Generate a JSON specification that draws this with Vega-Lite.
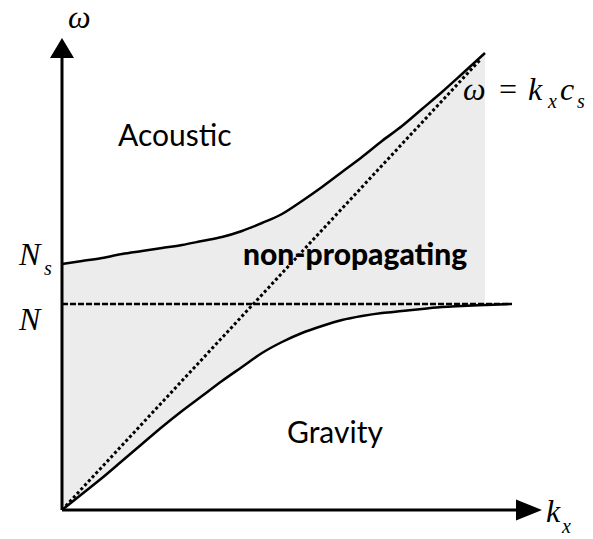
{
  "$schema": "https://vega.github.io/schema/vega-lite/v6.json",
  "width": 480,
  "height": 472,
  "autosize": {"type": "none"},
  "padding": {"left": 62, "top": 38, "right": 51, "bottom": 29},
  "background": "white",
  "config": {"view": {"stroke": null}},
  "datasets": {
    "branches": [
      {"k": 0, "acoustic": 246, "gravity": 0},
      {"k": 20, "acoustic": 249, "gravity": 16},
      {"k": 40, "acoustic": 252, "gravity": 32},
      {"k": 60, "acoustic": 256, "gravity": 49},
      {"k": 80, "acoustic": 259, "gravity": 66},
      {"k": 100, "acoustic": 262, "gravity": 83},
      {"k": 120, "acoustic": 265, "gravity": 99},
      {"k": 140, "acoustic": 269, "gravity": 114},
      {"k": 160, "acoustic": 273, "gravity": 129},
      {"k": 180, "acoustic": 279, "gravity": 143},
      {"k": 200, "acoustic": 287, "gravity": 157},
      {"k": 220, "acoustic": 296, "gravity": 168},
      {"k": 240, "acoustic": 309, "gravity": 177},
      {"k": 260, "acoustic": 323, "gravity": 184},
      {"k": 280, "acoustic": 338, "gravity": 190},
      {"k": 300, "acoustic": 353, "gravity": 194},
      {"k": 320, "acoustic": 369, "gravity": 197},
      {"k": 340, "acoustic": 384, "gravity": 199},
      {"k": 360, "acoustic": 401, "gravity": 201},
      {"k": 380, "acoustic": 418, "gravity": 203},
      {"k": 400, "acoustic": 436, "gravity": 204},
      {"k": 423, "acoustic": 457, "gravity": 205},
      {"k": 448, "gravity": 206}
    ],
    "sound": [{"k": 0, "w": 0}, {"k": 418, "w": 450}],
    "buoyancy": [{"k": 0, "w": 206}, {"k": 450, "w": 206}],
    "axes": [
      {"k": 0, "w": 0, "k2": 0, "w2": 452},
      {"k": 0, "w": 0, "k2": 454, "w2": 0}
    ],
    "labels": [
      {"text": "ω", "k": 6, "w": 482, "role": "math"},
      {"text": "N", "k": -43, "w": 245, "role": "math"},
      {"text": "s", "k": -18, "w": 235, "role": "sub"},
      {"text": "N", "k": -43, "w": 180, "role": "math"},
      {"text": "k", "k": 484, "w": -12, "role": "math"},
      {"text": "x", "k": 500, "w": -23, "role": "sub"},
      {"text": "ω", "k": 401, "w": 410, "role": "math"},
      {"text": "=", "k": 435, "w": 410, "role": "math"},
      {"text": "k", "k": 466, "w": 410, "role": "math"},
      {"text": "x", "k": 486, "w": 402, "role": "sub"},
      {"text": "c", "k": 498, "w": 410, "role": "math"},
      {"text": "s", "k": 515, "w": 402, "role": "sub"},
      {"text": "Acoustic", "k": 56, "w": 364, "role": "region"},
      {"text": "Gravity", "k": 225, "w": 67, "role": "region"},
      {"text": "non-propagating", "k": 181, "w": 245, "role": "bold"}
    ]
  },
  "layer": [
    {
      "data": {"name": "branches"},
      "mark": {"type": "area", "fill": "#ececec", "interpolate": "monotone"},
      "encoding": {
        "x": {"field": "k", "type": "quantitative", "scale": {"domain": [0, 480], "nice": false}, "axis": null},
        "y": {"field": "acoustic", "type": "quantitative", "scale": {"domain": [0, 472], "nice": false}, "axis": null},
        "y2": {"field": "gravity"}
      }
    },
    {
      "data": {"name": "buoyancy"},
      "mark": {"type": "line", "color": "black", "strokeWidth": 2.5, "strokeDash": [6, 2]},
      "encoding": {
        "x": {"field": "k", "type": "quantitative"},
        "y": {"field": "w", "type": "quantitative"}
      }
    },
    {
      "data": {"name": "sound"},
      "mark": {"type": "line", "color": "black", "strokeWidth": 3, "strokeDash": [3, 2.5]},
      "encoding": {
        "x": {"field": "k", "type": "quantitative"},
        "y": {"field": "w", "type": "quantitative"}
      }
    },
    {
      "data": {"name": "branches"},
      "mark": {"type": "line", "color": "black", "strokeWidth": 2.5, "interpolate": "monotone"},
      "encoding": {
        "x": {"field": "k", "type": "quantitative"},
        "y": {"field": "acoustic", "type": "quantitative"}
      }
    },
    {
      "data": {"name": "branches"},
      "mark": {"type": "line", "color": "black", "strokeWidth": 2.5, "interpolate": "monotone"},
      "encoding": {
        "x": {"field": "k", "type": "quantitative"},
        "y": {"field": "gravity", "type": "quantitative"}
      }
    },
    {
      "data": {"name": "axes"},
      "mark": {"type": "rule", "color": "black", "strokeWidth": 3},
      "encoding": {
        "x": {"field": "k", "type": "quantitative"},
        "y": {"field": "w", "type": "quantitative"},
        "x2": {"field": "k2"},
        "y2": {"field": "w2"}
      }
    },
    {
      "data": {"values": [{"k": 467, "w": 0}]},
      "mark": {"type": "point", "shape": "M-1,-0.8L1,0L-1,0.8Z", "size": 676, "filled": true, "color": "black", "opacity": 1},
      "encoding": {
        "x": {"field": "k", "type": "quantitative"},
        "y": {"field": "w", "type": "quantitative"}
      }
    },
    {
      "data": {"values": [{"k": 0, "w": 462}]},
      "mark": {"type": "point", "shape": "M0,-0.83L1,0.83L-1,0.83Z", "size": 576, "filled": true, "color": "black", "opacity": 1},
      "encoding": {
        "x": {"field": "k", "type": "quantitative"},
        "y": {"field": "w", "type": "quantitative"}
      }
    },
    {
      "data": {"name": "labels"},
      "transform": [{"filter": "datum.role === 'math'"}],
      "mark": {"type": "text", "font": "Liberation Serif", "fontStyle": "italic", "fontSize": 32, "align": "left", "baseline": "alphabetic", "color": "black"},
      "encoding": {
        "x": {"field": "k", "type": "quantitative"},
        "y": {"field": "w", "type": "quantitative"},
        "text": {"field": "text"}
      }
    },
    {
      "data": {"name": "labels"},
      "transform": [{"filter": "datum.role === 'sub'"}],
      "mark": {"type": "text", "font": "Liberation Serif", "fontStyle": "italic", "fontSize": 20, "align": "left", "baseline": "alphabetic", "color": "black"},
      "encoding": {
        "x": {"field": "k", "type": "quantitative"},
        "y": {"field": "w", "type": "quantitative"},
        "text": {"field": "text"}
      }
    },
    {
      "data": {"name": "labels"},
      "transform": [{"filter": "datum.role === 'region'"}],
      "mark": {"type": "text", "font": "Lato", "fontSize": 30, "align": "left", "baseline": "alphabetic", "color": "black"},
      "encoding": {
        "x": {"field": "k", "type": "quantitative"},
        "y": {"field": "w", "type": "quantitative"},
        "text": {"field": "text"}
      }
    },
    {
      "data": {"name": "labels"},
      "transform": [{"filter": "datum.role === 'bold'"}],
      "mark": {"type": "text", "font": "Lato", "fontWeight": 900, "fontSize": 30, "align": "left", "baseline": "alphabetic", "color": "black"},
      "encoding": {
        "x": {"field": "k", "type": "quantitative"},
        "y": {"field": "w", "type": "quantitative"},
        "text": {"field": "text"}
      }
    }
  ]
}
